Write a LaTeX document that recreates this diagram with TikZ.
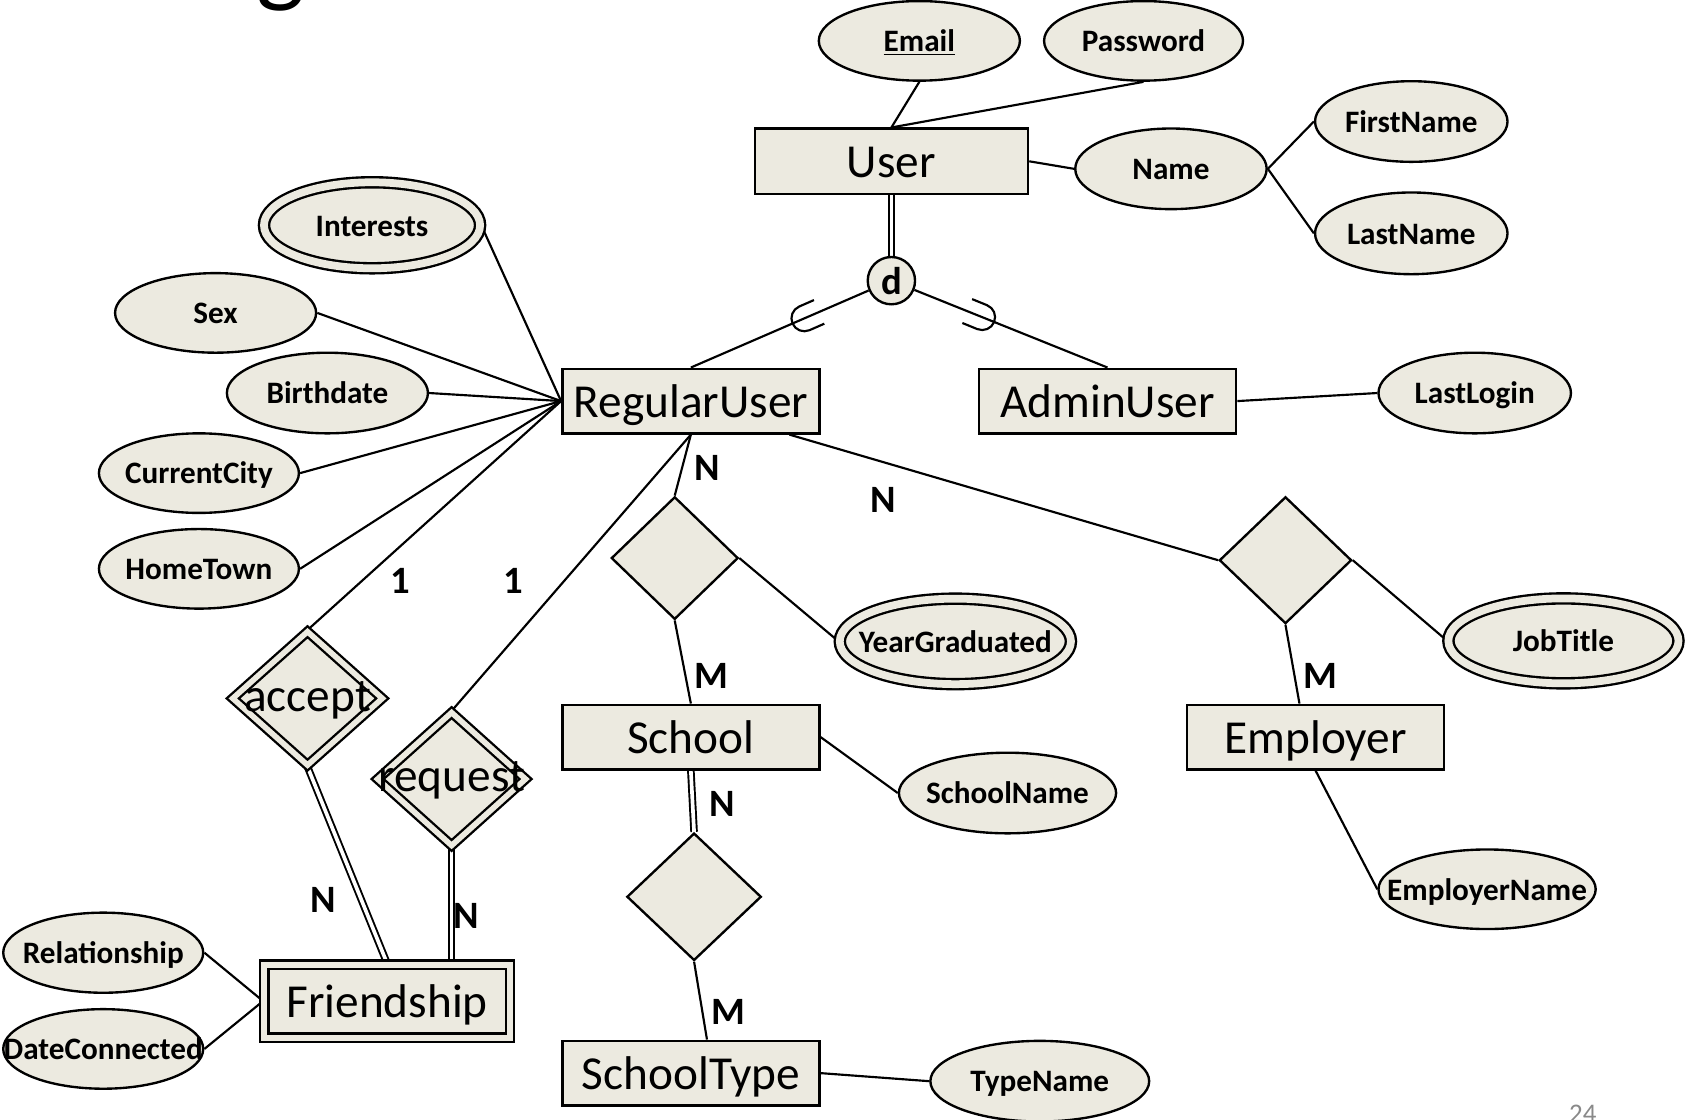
\documentclass[tikz,border=0pt]{standalone}
\usepackage{fontspec}
\setmainfont{Carlito}
\usetikzlibrary{shapes.geometric,calc}
\definecolor{erfill}{RGB}{236,234,224}
\definecolor{pggray}{RGB}{137,137,137}
\newcommand{\zw}[1]{\makebox[0pt]{#1}}
\pgfdeclarelayer{background}
\pgfsetlayers{background,main}
\begin{document}
\begin{tikzpicture}[x=0.5pt,y=-0.5pt,
  ent/.style={rectangle, draw, fill=erfill, line width=1.2pt, inner sep=0pt, minimum width=119.5pt, minimum height=30pt, text height=15pt, text depth=0pt, font=\fontsize{22}{26}\selectfont},
  wkent/.style={ent, double=erfill, double distance=2.8pt, line width=1.1pt},
  attr/.style={ellipse, draw, fill=erfill, line width=1.1pt, inner sep=0pt, minimum width=93pt, minimum height=37pt, text height=10pt, text depth=0pt, font=\fontsize{14.5}{17}\selectfont\bfseries},
  mattr/.style={attr, double=erfill, double distance=3.6pt},
  rel/.style={diamond, draw, fill=erfill, line width=1.1pt, inner sep=0pt, text height=12pt, text depth=0pt, font=\fontsize{22}{26}\selectfont},
  wkrel/.style={rel, double=erfill, double distance=2.6pt},
  conn/.style={line width=1pt},
  dconn/.style={line width=0.9pt, double, double distance=1.7pt},
  card/.style={font=\fontsize{18}{21}\selectfont\bfseries, inner sep=0pt},
]
\useasboundingbox (0,0) rectangle (1568,1041);
\clip (0,0) rectangle (1568,1041);

% fragments of slide title and page number
\node[font=\fontsize{48}{50}\selectfont, anchor=base, inner sep=0pt] (titleg) at (261,-6) {g};
\node[font=\fontsize{12.5}{14}\selectfont, text=pggray, anchor=base, inner sep=0pt] (pgnum) at (1472,1044) {24};

% User and its attributes
\node[ent, minimum width=127pt, minimum height=30.25pt] (user) at (829,150) {User};
\node[attr, minimum width=93.5pt] (email) at (855,38) {\zw{\underline{Email}}};
\node[attr, minimum width=92.5pt] (pwd) at (1063.5,38) {\zw{Password}};
\node[attr, minimum width=89pt, minimum height=37.5pt] (name) at (1089,157) {\zw{Name}};
\node[attr, minimum width=89.5pt, minimum height=37.5pt] (fname) at (1312.5,113) {\zw{FirstName}};
\node[attr, minimum width=89.5pt, minimum height=38pt] (lname) at (1312.5,217) {\zw{LastName}};
\node[circle, draw, fill=erfill, line width=1.1pt, minimum size=22pt, inner sep=0pt, font=\fontsize{18}{21}\selectfont\bfseries] (d) at (829,261) {d};

% subclasses
\node[ent] (ru) at (642.5,373) {RegularUser};
\node[ent] (au) at (1030,373) {AdminUser};
\node[attr, minimum width=89.5pt, minimum height=37.5pt] (llogin) at (1371.5,365.5) {\zw{LastLogin}};

% RegularUser attributes
\node[mattr, minimum width=100.5pt, minimum height=40pt] (interests) at (346,209.5) {\zw{Interests}};
\node[attr, minimum width=93.5pt] (sex) at (200.5,291) {\zw{Sex}};
\node[attr, minimum width=93.5pt, minimum height=37.5pt] (bdate) at (304.5,365.5) {\zw{Birthdate}};
\node[attr] (ccity) at (185,440) {\zw{CurrentCity}};
\node[attr] (htown) at (185,529) {\zw{HomeTown}};

% Friendship
\node[wkrel, minimum width=70pt, minimum height=62.5pt] (accept) at (286,649.5) {\zw{accept}};
\node[wkrel, minimum width=69.25pt, minimum height=62.25pt] (request) at (420,724.5) {\zw{request}};
\node[wkent, minimum width=114.25pt, minimum height=34pt] (friend) at (360,931) {Friendship};
\node[attr, minimum width=93pt, minimum height=37.25pt] (relship) at (96,886) {\zw{Relationship}};
\node[attr] (dcon) at (96,975.5) {\zw{DateConnected}};

% School
\node[rel, minimum width=59pt, minimum height=57pt] (attends) at (627.5,519) {};
\node[mattr, minimum width=107.5pt, minimum height=39.75pt] (yeargrad) at (888.5,596.5) {\zw{YearGraduated}};
\node[ent] (school) at (642.5,685.5) {School};
\node[attr, minimum width=101pt, minimum height=37.5pt] (sname) at (937,737.5) {\zw{SchoolName}};
\node[rel, minimum width=62.5pt, minimum height=59.25pt] (oftype) at (645.5,834) {};
\node[ent] (stype) at (642.5,998) {SchoolType};
\node[attr, minimum width=101.75pt, minimum height=37.5pt] (tname) at (967,1005.5) {\zw{TypeName}};

% Employer
\node[rel, minimum width=61.5pt, minimum height=59pt] (works) at (1195.5,521) {};
\node[mattr, minimum width=107pt, minimum height=39.5pt] (jobtitle) at (1454,596) {\zw{JobTitle}};
\node[ent] (emp) at (1223.5,685.5) {Employer};
\node[attr, minimum width=101pt, minimum height=37pt] (ename) at (1383,827) {\zw{EmployerName}};

% cardinalities
\node[card] (n1) at (658,435) {N};
\node[card] (n2) at (821,465) {N};
\node[card] (one1) at (372,540) {1};
\node[card] (one2) at (477,540) {1};
\node[card] (m1) at (662,629) {M};
\node[card] (n3) at (672,748) {N};
\node[card] (m2) at (677,941) {M};
\node[card] (m3) at (1228,629) {M};
\node[card] (n4) at (301,837) {N};
\node[card] (n5) at (434,852) {N};

\begin{pgfonlayer}{background}
\draw[conn] (email.south) -- (user.north);
\draw[conn] (pwd.south) -- (user.north);
\draw[conn] (user.east) -- (name.west);
\draw[conn] (name.east) -- (fname.west);
\draw[conn] (name.east) -- (lname.west);
\draw[dconn] (user.south) -- (d.north);
\draw[conn] (d) -- (ru.north);
\draw[conn] (d) -- (au.north);
\draw[conn] (au.east) -- (llogin.west);
\draw[conn] (interests.east) -- (ru.west);
\draw[conn] (sex.east) -- (ru.west);
\draw[conn] (bdate.east) -- (ru.west);
\draw[conn] (ccity.east) -- (ru.west);
\draw[conn] (htown.east) -- (ru.west);
\draw[conn] (ru.west) -- (accept.north);
\draw[conn] (ru.south) -- (request.north);
\draw[dconn] (accept.south) -- (friend.north);
\draw[dconn] (request.south) -- (request.south |- friend.north);
\draw[conn] (relship.east) -- (friend.west);
\draw[conn] (dcon.east) -- (friend.west);
\draw[conn] (ru.south) -- (attends.north);
\draw[conn] (attends.east) -- (yeargrad.west);
\draw[conn] (attends.south) -- (school.north);
\draw[conn] (school.east) -- (sname.west);
\draw[dconn] (school.south) -- (oftype.north);
\draw[conn] (oftype.south) -- ([xshift=7.5pt]stype.north);
\draw[conn] (stype.east) -- (tname.west);
\draw[conn] ([xshift=-14.5pt]ru.south east) -- (works.west);
\draw[conn] (works.east) -- (jobtitle.west);
\draw[conn] (works.south) -- ([xshift=-7.5pt]emp.north);
\draw[conn] (emp.south) -- (ename.west);
\end{pgfonlayer}

% subset symbols
\coordinate (s1) at ($(d.center)!0.434!(ru.north)$);
\coordinate (s2) at ($(d.center)!0.42!(au.north)$);
\draw[conn, shift={(s1)}, rotate=23.7] (15,12) -- (0,12) arc[start angle=90, end angle=270, radius=12] -- (15,-12);
\draw[conn, shift={(s2)}, rotate=157.8] (15,12) -- (0,12) arc[start angle=90, end angle=270, radius=12] -- (15,-12);
\end{tikzpicture}
\end{document}
